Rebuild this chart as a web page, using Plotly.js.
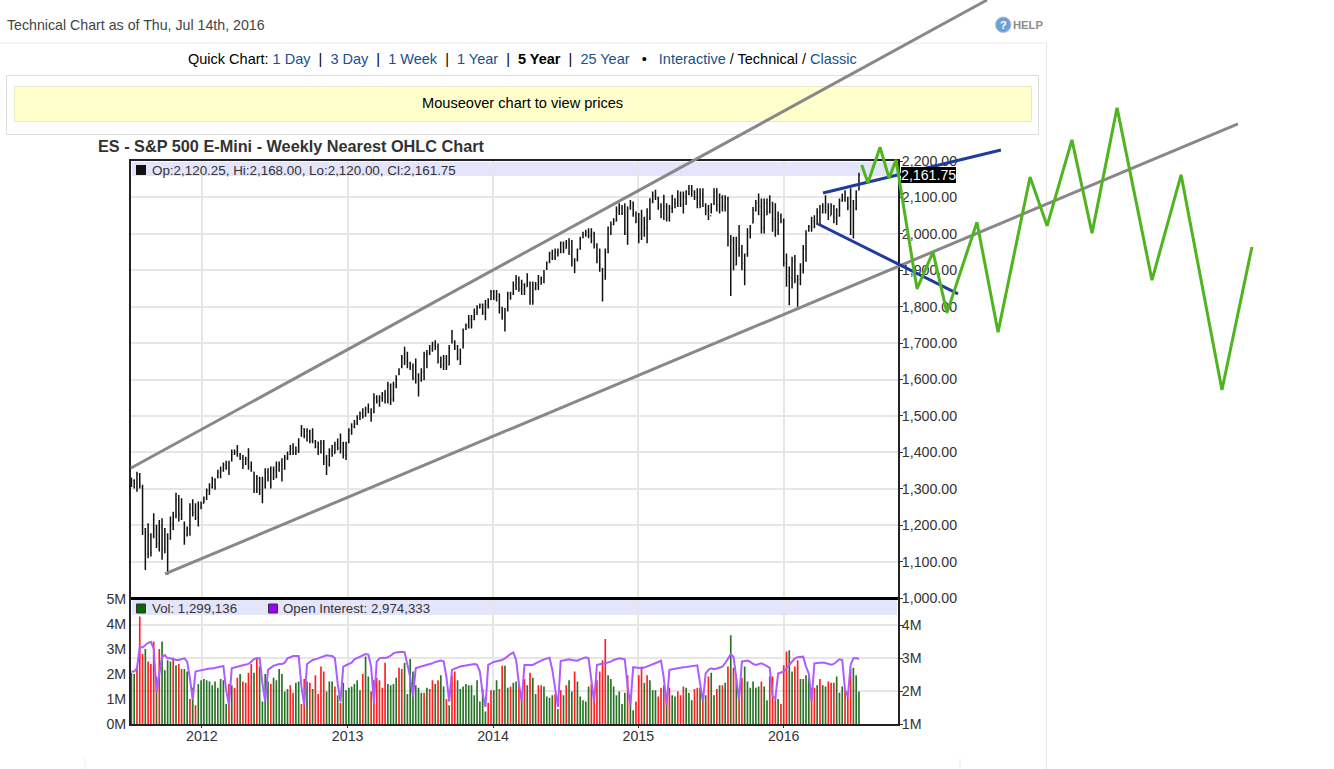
<!DOCTYPE html>
<html><head><meta charset="utf-8">
<script src="https://cdn.plot.ly/plotly-3.0.1.min.js"></script>
<style>html,body{margin:0;padding:0;background:#fff;overflow:hidden}#c{width:1334px;height:769px}</style>
</head><body><div id="c"></div>
<script>
const lastWeek = '2016-07-08';
const yearTicks = ['2012-01-01','2013-01-01','2014-01-01','2015-01-01','2016-01-01'];
const yearLabels = ['2012','2013','2014','2015','2016'];
const priceTicks = [1000,1100,1200,1300,1400,1500,1600,1700,1800,1900,2000,2100,2200];
const volTicks = [0,1,2,3,4,5];
const volLabels = ['0M','1M','2M','3M','4M','5M'];
const oiTicks = [1,2,3,4];
const oiLabels = ['1M','2M','3M','4M'];

const highs = [
1330,1326,1347,1343,1311,1192,1205,1178,1233,1201,
1214,1219,1192,1178,1224,1237,1289,1283,1274,1210,
1196,1260,1271,1260,1265,1265,1279,1301,1315,1333,
1329,1352,1361,1372,1377,1377,1408,1408,1420,1398,
1393,1388,1411,1375,1347,1338,1333,1333,1356,1356,
1361,1361,1375,1375,1384,1393,1402,1420,1425,1416,
1439,1475,1466,1466,1462,1466,1434,1430,1434,1434,
1393,1411,1420,1429,1438,1452,1429,1429,1466,1480,
1489,1502,1512,1521,1525,1534,1521,1562,1557,1557,
1566,1571,1594,1589,1594,1612,1631,1667,1690,1676,
1649,1644,1658,1617,1631,1676,1681,1695,1704,1708,
1699,1663,1667,1667,1695,1736,1708,1695,1685,1740,
1754,1777,1777,1795,1804,1809,1809,1818,1823,1846,
1846,1846,1836,1800,1796,1841,1841,1869,1887,1883,
1874,1864,1892,1869,1869,1868,1887,1883,1901,1924,
1951,1956,1960,1960,1979,1979,1983,1988,1983,1933,
1960,1992,2006,2011,2015,2015,2006,1974,1960,1906,
1960,2020,2034,2043,2075,2084,2079,2084,2075,2093,
2089,2061,2057,2066,2047,2070,2098,2116,2121,2102,
2084,2107,2084,2079,2107,2098,2120,2116,2116,2120,
2134,2134,2120,2125,2125,2125,2084,2079,2084,2125,
2125,2111,2106,2106,2102,1997,1992,1992,2024,1969,
1946,2015,2024,2074,2093,2111,2097,2097,2097,2106,
2088,2084,2061,2056,2042,1946,1910,1937,1942,1887,
1919,1969,2010,2024,2047,2051,2070,2079,2084,2106,
2084,2084,2079,2070,2097,2111,2120,2102,2125,2093,
2120,2168];
const lows = [
1305,1301,1292,1301,1173,1077,1109,1114,1164,1137,
1128,1105,1123,1064,1160,1187,1219,1210,1214,1146,
1169,1171,1224,1214,1196,1244,1260,1269,1283,1301,
1297,1329,1329,1347,1352,1338,1375,1393,1388,1379,
1354,1365,1352,1347,1288,1288,1283,1260,1301,1320,
1301,1324,1329,1347,1320,1352,1379,1393,1393,1393,
1398,1443,1439,1430,1425,1425,1411,1393,1397,1365,
1338,1361,1388,1397,1406,1397,1383,1379,1425,1448,
1466,1475,1489,1493,1498,1507,1484,1507,1534,1525,
1539,1534,1534,1530,1539,1576,1612,1631,1640,1631,
1626,1598,1589,1553,1594,1598,1631,1667,1676,1681,
1644,1631,1626,1626,1640,1699,1681,1653,1640,1685,
1736,1740,1740,1763,1777,1795,1777,1763,1795,1818,
1818,1814,1781,1764,1732,1787,1819,1832,1846,1841,
1832,1832,1855,1805,1805,1845,1846,1860,1864,1901,
1919,1928,1928,1938,1947,1947,1960,1942,1910,1892,
1924,1956,1988,1992,1988,1974,1960,1919,1896,1814,
1874,1947,1997,2024,2034,2052,2052,1997,1970,2066,
2047,2029,1974,1983,1992,1974,2038,2084,2093,2066,
2043,2038,2034,2034,2057,2070,2074,2074,2056,2079,
2106,2102,2093,2070,2070,2074,2051,2038,2056,2079,
2061,2056,2061,2061,1965,1829,1900,1914,1937,1900,
1859,1937,1987,2029,2061,2051,2001,2001,2051,2056,
2006,1992,1997,2029,1910,1855,1804,1850,1864,1800,
1859,1891,1923,2006,2006,2015,2024,2024,2056,2056,
2038,2051,2029,2024,2047,2088,2088,2065,1997,1987,
2065,2120];
const opens = [
1310,1322,1306,1340,1305,1190,1122,1170,1170,1190,
1150,1195,1135,1170,1165,1205,1225,1270,1230,1205,
1172,1190,1245,1235,1220,1250,1260,1275,1295,1305,
1325,1330,1345,1350,1365,1358,1378,1398,1400,1392,
1385,1368,1382,1360,1345,1295,1330,1290,1305,1345,
1330,1330,1350,1350,1365,1355,1385,1395,1412,1400,
1405,1445,1465,1445,1458,1432,1430,1415,1400,1425,
1385,1365,1405,1397,1420,1412,1425,1392,1428,1460,
1470,1480,1495,1505,1500,1520,1510,1510,1550,1540,
1550,1558,1545,1585,1545,1585,1615,1635,1660,1650,
1645,1635,1605,1610,1600,1620,1670,1672,1685,1695,
1690,1650,1640,1660,1640,1705,1700,1690,1660,1690,
1738,1748,1765,1765,1785,1798,1805,1785,1805,1820,
1840,1825,1835,1790,1775,1790,1835,1835,1860,1875,
1850,1860,1855,1865,1815,1850,1860,1875,1870,1905,
1925,1945,1935,1950,1950,1975,1960,1975,1965,1925,
1930,1960,1990,2000,2005,1995,2000,1970,1935,1905,
1885,1960,2015,2025,2035,2065,2070,2060,2000,2070,
2085,2050,2035,2000,2040,2015,2045,2090,2105,2100,
2075,2055,2075,2045,2070,2095,2085,2105,2080,2100,
2110,2125,2115,2100,2085,2110,2080,2065,2050,2085,
2115,2080,2100,2075,2095,1975,1980,1915,1960,1950,
1920,1945,2005,2030,2065,2085,2075,2015,2085,2060,
2085,2040,2010,2050,2035,1920,1885,1880,1925,1870,
1875,1900,1960,2010,2020,2035,2030,2060,2060,2075,
2065,2050,2075,2045,2050,2090,2095,2095,2075,2090,
2070,2120.25];
const closes = [
1322,1305,1340,1305,1195,1120,1170,1125,1215,1150,
1195,1135,1180,1120,1205,1225,1270,1230,1255,1160,
1190,1245,1235,1220,1255,1258,1275,1295,1305,1325,
1305,1345,1350,1365,1358,1370,1400,1400,1412,1385,
1365,1382,1360,1350,1295,1330,1290,1280,1345,1330,
1310,1350,1335,1365,1345,1385,1395,1412,1400,1405,
1430,1468,1445,1460,1432,1455,1415,1400,1425,1385,
1355,1405,1392,1420,1412,1440,1392,1425,1460,1470,
1480,1495,1505,1498,1520,1510,1500,1550,1540,1550,
1558,1540,1585,1545,1585,1600,1625,1660,1650,1645,
1635,1605,1640,1570,1620,1670,1672,1685,1695,1690,
1650,1640,1660,1635,1685,1725,1690,1660,1650,1735,
1748,1765,1750,1785,1798,1805,1785,1805,1815,1840,
1825,1840,1800,1775,1750,1835,1825,1860,1875,1850,
1865,1845,1880,1815,1860,1860,1880,1865,1890,1920,
1945,1935,1950,1945,1975,1955,1975,1950,1925,1910,
1955,1985,2000,2005,1995,2005,1970,1935,1915,1875,
1950,2015,2025,2035,2065,2070,2055,2000,2065,2085,
2055,2040,1995,2050,2015,2060,2090,2105,2110,2075,
2055,2095,2045,2070,2095,2085,2105,2080,2105,2115,
2125,2120,2100,2085,2110,2090,2065,2045,2070,2115,
2080,2100,2075,2095,1980,1985,1915,1960,1950,1920,
1900,2005,2015,2065,2085,2075,2015,2085,2060,2090,
2040,2010,2050,2035,1920,1885,1880,1925,1875,1875,
1900,1960,2000,2020,2035,2020,2060,2030,2075,2065,
2050,2075,2045,2035,2090,2095,2110,2075,2105,2030,
2115,2161.75];

const volumes = [
2.05,2.0,2.3,4.3,2.8,3.0,2.5,2.4,3.3,1.9,
3.0,3.3,2.15,2.55,2.5,2.65,2.35,2.4,2.2,2.2,
2.1,1.0,1.45,0.75,1.6,1.75,1.8,1.75,1.7,1.55,
1.7,1.45,1.8,1.75,0.8,1.6,1.55,1.45,1.85,2.0,
1.7,1.65,2.05,2.4,2.05,2.65,2.3,0.9,2.0,1.7,
1.6,1.85,1.75,2.2,2.0,1.3,1.4,1.55,1.25,1.65,
1.7,0.8,1.8,1.7,1.65,1.4,1.95,1.2,2.3,2.1,
1.3,1.7,1.7,1.5,1.15,0.85,1.65,1.35,1.45,1.5,
1.6,1.75,1.35,2.0,2.7,1.9,1.3,1.75,1.85,1.75,
1.45,2.45,1.6,1.55,1.6,1.85,2.25,2.2,2.45,1.2,
2.6,2.1,1.55,1.45,1.25,1.25,1.45,1.4,1.75,1.6,
1.75,1.95,1.5,1.0,0.75,1.95,2.1,1.75,1.4,1.5,
1.6,1.55,1.55,1.15,1.75,0.9,1.4,0.5,0.85,1.35,
1.35,1.75,1.4,2.33,2.33,1.45,1.5,1.65,1.7,1.6,
1.0,1.8,1.55,2.05,1.85,1.2,1.55,1.55,1.5,1.1,
1.05,1.15,1.2,0.6,1.35,1.15,1.55,1.75,1.3,2.1,
1.7,1.1,0.95,0.9,1.5,1.6,1.0,1.75,2.1,2.55,
3.4,1.95,1.8,1.5,1.15,1.3,0.8,1.25,1.95,1.1,
0.55,0.9,1.95,2.3,1.65,1.95,1.75,1.35,1.35,1.1,
1.45,1.55,1.0,1.45,1.15,1.1,1.3,1.15,1.5,1.45,
1.25,0.95,1.4,1.45,1.45,1.15,1.15,1.9,2.05,1.15,
1.4,1.55,1.55,1.65,2.3,3.55,2.25,1.85,1.1,1.85,
2.3,1.7,1.45,1.7,1.45,1.5,1.7,1.5,0.95,1.9,
1.9,1.1,1.0,0.8,2.35,2.9,2.95,2.1,2.3,2.55,
1.8,1.8,1.95,1.85,1.45,1.45,1.55,1.8,1.55,1.5,
1.7,1.65,1.65,1.9,1.25,1.5,1.4,1.1,2.2,2.25,
1.95,1.3];
const volumeDirection = [
"GGRRRGRRRG","RGGGGRGRRG","GRGRGGGGGG","GGGGGRGRRG",
"RRRRGRGGGG","RGGGGGGRRG","GRRGRGRRRR","GGGRGRGGGG",
"GGGRGGRRRR","RRGGGGRRGG","GGGGGRGRRG","RGGRGRRGGG",
"GGGGGGGGRR","GGRRGGRGGR","GRGRGGRRGG","GGRGRGRGGR",
"GGGGGRRRRR","RGGGGGGGRG","GRRRGRGGGR","RRGRGGRRRG",
"GGRRGRGRGG","RGRGRGRGRR","GGGGGGRGGR","RRGRRRGGRR",
"GGGGRRGRGG","RRRGGGRRRG","GG"];
const openInterest = [
2.59,2.59,2.69,3.34,3.32,3.39,3.46,3.49,3.29,1.98,
2.53,3.04,3.09,2.99,2.99,2.96,2.94,2.94,2.97,2.99,
2.89,2.38,1.73,2.59,2.61,2.63,2.64,2.66,2.68,2.68,
2.70,2.71,2.72,2.76,2.03,1.57,2.69,2.72,2.74,2.76,
2.78,2.80,2.82,2.89,2.97,2.99,2.99,2.23,1.68,2.64,
2.72,2.77,2.79,2.82,2.82,2.86,2.99,3.02,3.06,3.06,
3.06,2.13,1.57,2.82,2.89,2.94,2.96,2.99,3.04,3.06,
3.08,3.07,3.06,2.99,2.23,1.68,2.74,2.78,2.82,2.86,
2.96,3.00,3.06,3.10,3.12,3.10,2.74,1.63,2.89,2.99,
3.01,3.00,3.02,3.07,3.14,3.17,3.19,3.19,3.18,2.79,
2.43,1.83,2.69,2.72,2.74,2.78,2.79,2.82,2.84,2.88,
2.91,2.92,2.90,2.43,1.68,2.64,2.68,2.72,2.74,2.76,
2.78,2.80,2.81,2.82,2.80,2.59,1.93,1.52,2.79,2.84,
2.88,2.90,2.91,2.94,2.99,3.07,3.12,3.17,2.94,2.23,
1.68,2.79,2.79,2.79,2.79,2.84,2.89,2.92,2.96,2.99,
3.01,2.64,2.13,1.52,2.91,2.93,2.95,2.96,2.94,2.93,
2.92,2.96,2.99,3.02,2.99,2.28,1.68,2.79,2.82,2.83,
2.84,2.86,2.89,2.94,2.97,2.99,2.98,2.96,2.13,1.57,
2.72,2.71,2.70,2.69,2.71,2.74,2.78,2.80,2.83,2.88,
2.92,2.38,1.57,2.64,2.66,2.68,2.70,2.72,2.72,2.73,
2.74,2.76,2.77,2.78,2.23,1.68,2.53,2.64,2.69,2.66,
2.68,2.71,2.74,2.84,2.99,3.11,3.04,2.38,1.73,2.89,
2.91,2.92,2.88,2.82,2.79,2.82,2.84,2.80,2.76,2.70,
1.83,1.78,2.53,2.56,2.59,2.69,2.79,2.89,2.99,3.02,
3.03,3.04,2.74,2.53,1.68,2.84,2.85,2.86,2.86,2.85,
2.82,2.80,2.82,2.89,2.96,2.94,2.03,1.83,2.79,2.99,
3.00,2.97];

// hand-drawn markup: decimal year, price
const upperChannelYear = [2011.512, 2017.395];
const upperChannelPrice = [1357, 2642];
const lowerChannelYear = [2011.746, 2019.12];
const lowerChannelPrice = [1066, 2302];
const wedgeTopYear = [2016.268, 2017.491];
const wedgeTopPrice = [2112, 2230];
const wedgeBottomYear = [2016.234, 2017.196];
const wedgeBottomPrice = [2027, 1835];
const forecastYear = [2016.534,2016.577,2016.660,2016.722,2016.770,2016.914,2017.024,2017.120,2017.326,2017.471,2017.691,2017.808,2017.979,2018.117,2018.289,2018.529,2018.729,2019.010,2019.216];
const forecastPrice = [2189,2140,2238,2153,2203,1849,1950,1783,2032,1730,2156,2022,2258,2002,2346,1873,2162,1571,1964];

const W = 1334, H = 769;
const FONT = '"Liberation Sans", Arial, sans-serif';
const fx = p => p / W, fy = p => 1 - p / H;

const weeks = highs.map((_, i) => {
  const d = new Date(lastWeek + 'T00:00:00Z');
  d.setUTCDate(d.getUTCDate() - 7 * (highs.length - 1 - i));
  return d.toISOString().slice(0, 10);
});
const dateRange = ['2011-07-07', '2016-10-14'];
const dirString = volumeDirection.join('');
const dirs = volumes.map((_, i) => dirString[i] === 'R' ? '#ff1f1f' : '#267326');

const traces = [
  {type:'ohlc', x:weeks, open:opens, high:highs, low:lows, close:closes, xaxis:'x', yaxis:'y',
   increasing:{line:{color:'#111111', width:1.5}}, decreasing:{line:{color:'#111111', width:1.5}},
   tickwidth:0.3, hoverinfo:'skip'},
  {type:'bar', x:weeks, y:volumes, xaxis:'x2', yaxis:'y2', marker:{color:dirs, line:{width:0}}, hoverinfo:'skip'},
  {type:'scatter', mode:'lines', x:weeks, y:openInterest, xaxis:'x2', yaxis:'y3',
   line:{color:'#ad5cff', width:2}, hoverinfo:'skip'},
  {type:'scatter', mode:'lines', x:upperChannelYear, y:upperChannelPrice, xaxis:'x3', yaxis:'y4', line:{color:'#888888', width:3}, hoverinfo:'skip'},
  {type:'scatter', mode:'lines', x:lowerChannelYear, y:lowerChannelPrice, xaxis:'x3', yaxis:'y4', line:{color:'#888888', width:3}, hoverinfo:'skip'},
  {type:'scatter', mode:'lines', x:wedgeTopYear, y:wedgeTopPrice, xaxis:'x3', yaxis:'y4', line:{color:'#1f3c9c', width:3}, hoverinfo:'skip'},
  {type:'scatter', mode:'lines', x:wedgeBottomYear, y:wedgeBottomPrice, xaxis:'x3', yaxis:'y4', line:{color:'#1f3c9c', width:3}, hoverinfo:'skip'},
  {type:'scatter', mode:'lines', x:forecastYear, y:forecastPrice, xaxis:'x3', yaxis:'y4', line:{color:'#4fb41f', width:3}, hoverinfo:'skip'}
];

const rect = (x0,y0,x1,y1,fill,line,lw) => ({type:'rect', xref:'paper', yref:'paper', x0:fx(x0), x1:fx(x1), y0:fy(y0), y1:fy(y1), fillcolor:fill, line:{color:line||fill, width:lw===undefined?1:lw}, layer:'below'});
const seg = (x0,y0,x1,y1,color,w,layer) => ({type:'line', xref:'paper', yref:'paper', x0:fx(x0), x1:fx(x1), y0:fy(y0), y1:fy(y1), line:{color, width:w}, layer:layer||'below'});
const shapes = [
  seg(0,43,1047,43,'#e6e6e6',1),
  seg(1046.5,43,1046.5,769,'#e6e6e6',1),
  rect(6.5,75.5,1038.5,134.5,'#ffffff','#dddddd'),
  rect(14.5,86.5,1031.5,121.5,'#ffffcc','#e8e8c4'),
  seg(85,758,85,769,'#ececec',1),
  seg(960,758,960,769,'#ececec',1),
  rect(132,162,897,176,'#e4e4fb','#e4e4fb',0),
  rect(132,600,897,615,'#e4e4fb','#e4e4fb',0),
  rect(136,165,146,175,'#111111','#111111',0),
  rect(136.5,604,145.5,613,'#0a6a0a','#333333',1),
  rect(268.5,604,277.5,613,'#9a00ff','#333333',1),
  seg(131,598.5,898,598.5,'#000000',3,'above'),
  {type:'circle', xref:'paper', yref:'paper', x0:fx(995.5), x1:fx(1011), y0:fy(32.5), y1:fy(17), fillcolor:'#6f9fd4', line:{color:'#a8c4e4', width:1}, layer:'below'}
];

const note = (x,y,text,size,color,anchor,extra) => Object.assign({xref:'paper', yref:'paper', x:fx(x), y:fy(y), text, showarrow:false,
  xanchor:anchor||'left', yanchor:'middle', font:{family:FONT, size, color}, borderpad:0, borderwidth:0}, extra||{});
const L = t => `<span style="color:#17508c">${t}</span>`;
const annotations = [
  note(7,25,'Technical Chart as of Thu, Jul 14th, 2016',14.2,'#444444'),
  note(1003.3,25,'<b>?</b>',11,'#ffffff','center'),
  note(1013,25,'<b>HELP</b>',11.2,'#8a8a8a'),
  note(522.5,59,`Quick Chart: ${L('1 Day')}  |  ${L('3 Day')}  |  ${L('1 Week')}  |  ${L('1 Year')}  |  <b>5 Year</b>  |  ${L('25 Year')}   •   ${L('Interactive')} / Technical / ${L('Classic')}`,14.5,'#000000','center'),
  note(522.5,103,'Mouseover chart to view prices',14.6,'#000000','center'),
  note(98,145.5,'<b>ES - S&amp;P 500 E-Mini - Weekly Nearest OHLC Chart</b>',16.25,'#333333'),
  note(152,170,'Op:2,120.25, Hi:2,168.00, Lo:2,120.00, Cl:2,161.75',13.4,'#333333'),
  note(152,608.5,'Vol: 1,299,136',13.3,'#333333'),
  note(283,608.5,'Open Interest: 2,974,333',13.3,'#333333'),
  note(928,175,'2,161.75',14.2,'#ffffff','center',{bgcolor:'#000000', borderpad:0})
];

const gridC = '#e6e6e6';
const xDomain = [fx(131), fx(898)];
const tickF = {size:14.2, color:'#333333'};
const layout = {
  width:W, height:H, autosize:false, margin:{l:0,r:0,t:0,b:0,pad:0},
  paper_bgcolor:'#ffffff', plot_bgcolor:'rgba(0,0,0,0)', showlegend:false, bargap:0.4, dragmode:false,
  shapes, annotations,
  font:{family:FONT, size:14, color:'#333333'},
  xaxis:{domain:xDomain, anchor:'y', type:'date', range:dateRange, tickmode:'array', tickvals:yearTicks, ticktext:yearLabels,
    showticklabels:false, ticks:'', showgrid:true, gridcolor:gridC, gridwidth:2, zeroline:false,
    showline:true, mirror:true, linecolor:'#222222', linewidth:2, rangeslider:{visible:false}},
  yaxis:{domain:[fy(598), fy(161)], anchor:'x', side:'right', range:[1000,2200], tickmode:'array', tickvals:priceTicks, tickformat:',.2f',
    ticks:'outside', ticklen:3, tickcolor:'#333333', ticklabelstandoff:-4, showgrid:true, gridcolor:gridC, gridwidth:2, zeroline:false,
    showline:true, mirror:true, linecolor:'#222222', linewidth:2, tickfont:tickF},
  xaxis2:{domain:xDomain, anchor:'y2', type:'date', range:dateRange, tickmode:'array', tickvals:yearTicks, ticktext:yearLabels,
    ticks:'outside', ticklen:2, tickcolor:'#333333', ticklabelstandoff:-4, showgrid:true, gridcolor:gridC, gridwidth:2, zeroline:false,
    showline:true, linecolor:'#222222', linewidth:2, tickfont:tickF},
  yaxis2:{domain:[fy(724), fy(599)], anchor:'x2', side:'left', range:[0,5], tickmode:'array', tickvals:volTicks, ticktext:volLabels,
    ticks:'', showgrid:false, zeroline:false, showline:true, linecolor:'#222222', linewidth:2, tickfont:tickF},
  yaxis3:{domain:[fy(724), fy(599)], anchor:'x2', overlaying:'y2', side:'right', range:[1,4.788], tickmode:'array', tickvals:oiTicks, ticktext:oiLabels,
    ticks:'outside', ticklen:3, tickcolor:'#333333', ticklabelstandoff:-4, showgrid:true, gridcolor:gridC, gridwidth:2, zeroline:false,
    showline:true, linecolor:'#222222', linewidth:2, tickfont:tickF},
  xaxis3:{domain:[0,1], anchor:'y4', range:[2010.6117,2019.780], visible:false, fixedrange:true},
  yaxis4:{domain:[0,1], anchor:'x3', range:[530.4,2642.1], visible:false, fixedrange:true}
};
Plotly.newPlot('c', traces, layout, {displayModeBar:false, staticPlot:true});
</script></body></html>
